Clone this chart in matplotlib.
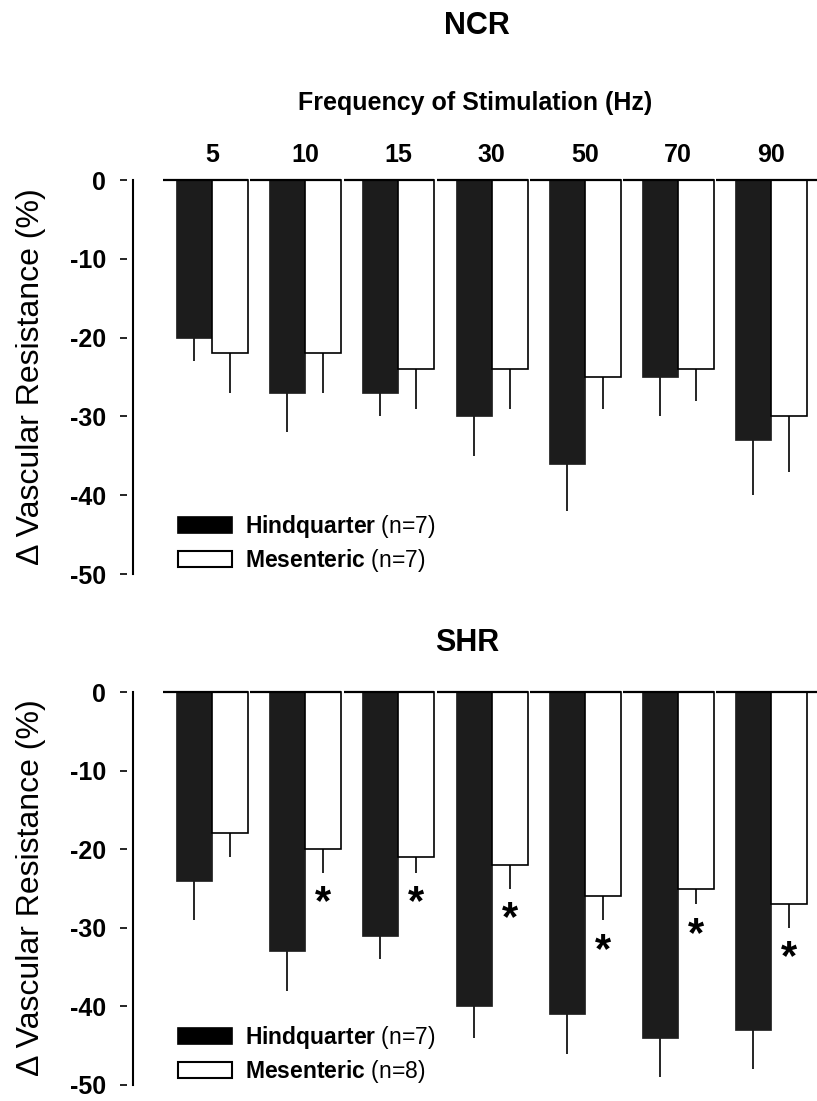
import numpy as np
import matplotlib
matplotlib.use("Agg")
import matplotlib.pyplot as plt
from matplotlib.patches import Patch

plt.rcParams['font.family'] = ['Liberation Sans', 'DejaVu Sans']
plt.rcParams['mathtext.fontset'] = 'custom'
plt.rcParams['mathtext.rm'] = 'Liberation Sans'
plt.rcParams['mathtext.bf'] = 'Liberation Sans:bold'

# ----------------------------------------------------------------------
# Data: % change in vascular resistance, mean and SEM
# ----------------------------------------------------------------------
freqs = ['5', '10', '15', '30', '50', '70', '90']

ncr_hind = [-20, -27, -27, -30, -36, -25, -33]
ncr_hind_sem = [3, 5, 3, 5, 6, 5, 7]
ncr_mes = [-22, -22, -24, -24, -25, -24, -30]
ncr_mes_sem = [5, 5, 5, 5, 4, 4, 7]

shr_hind = [-24, -33, -31, -40, -41, -44, -43]
shr_hind_sem = [5, 5, 3, 4, 5, 5, 5]
shr_mes = [-18, -20, -21, -22, -26, -25, -27]
shr_mes_sem = [3, 3, 2, 3, 3, 2, 3]
shr_sig = [False, True, True, True, True, True, True]

yticks = [0, -10, -20, -30, -40, -50]

W, H = 817, 1101
DARK = '#1c1c1c'


def panel(ax, hind, hind_sem, mes, mes_sem, n_hind, n_mes, sig=None):
    x = np.arange(len(hind))
    w = 0.386
    xmax = 6.49
    ax.set_xlim(-0.848, xmax)
    ax.set_ylim(-50, 0)

    ax.bar(x - w / 2, hind, w, color=DARK, edgecolor=DARK, linewidth=0.5,
           clip_on=False, zorder=2)
    ax.bar(x + w / 2, mes, w, color='white', edgecolor='black', linewidth=1.2,
           clip_on=False, zorder=2)
    ax.errorbar(x - w / 2, hind, yerr=[hind_sem, np.zeros(len(x))], fmt='none',
                ecolor='black', elinewidth=1.2, capsize=0, zorder=1)
    ax.errorbar(x + w / 2, mes, yerr=[mes_sem, np.zeros(len(x))], fmt='none',
                ecolor='black', elinewidth=1.2, capsize=0, zorder=1)

    # broken zero line, one segment per frequency group
    starts = x - 1 + w + 0.025
    starts[0] = -0.526
    ends = (x + w).astype(float)
    ends[-1] = xmax
    ax.hlines(np.zeros(len(x)), starts, ends, color='black', linewidth=1.6,
              clip_on=False, zorder=3)

    if sig is not None:
        for xi, m, s, flag in zip(x, mes, mes_sem, sig):
            if flag:
                ax.annotate('*', xy=(xi + w / 2, m - s), xytext=(0, -30),
                            textcoords='offset points', ha='center',
                            va='baseline', fontsize=30, fontweight='bold')

    # axes styling
    for side in ['top', 'right', 'bottom']:
        ax.spines[side].set_visible(False)
    ax.spines['left'].set_linewidth(1.5)
    ax.tick_params(axis='y', left=False, labelleft=False)
    sec = ax.secondary_yaxis(-6 / 684)
    sec.spines['left'].set_visible(False)
    sec.set_yticks(yticks)
    sec.set_yticklabels([str(v) for v in yticks], fontsize=18, fontweight='bold')
    sec.tick_params(length=5, width=1.2, pad=10)

    handles = [Patch(facecolor='black', edgecolor='black', linewidth=1.2),
               Patch(facecolor='white', edgecolor='black', linewidth=1.5)]
    labels = [r'$\mathbf{Hindquarter}$ (n=%d)' % n_hind,
              r'$\mathbf{Mesenteric}$ (n=%d)' % n_mes]
    ax.legend(handles, labels, loc='lower left', bbox_to_anchor=(0.066, 0.0),
              frameon=False, fontsize=16.5, borderpad=0, borderaxespad=0,
              handlelength=2.35, handleheight=0.65, handletextpad=0.55,
              labelspacing=0.3)
    return x


fig = plt.figure(figsize=(W / 100, H / 100), dpi=100)
ax_top = fig.add_axes([133 / W, 1 - 574 / H, 684 / W, 394 / H])
ax_bot = fig.add_axes([133 / W, 1 - 1085 / H, 684 / W, 393 / H])

x = panel(ax_top, ncr_hind, ncr_hind_sem, ncr_mes, ncr_mes_sem, 7, 7)
ax_top.xaxis.tick_top()
ax_top.set_xticks(x, freqs, fontsize=18, fontweight='bold')
ax_top.tick_params(axis='x', length=0, pad=9)

panel(ax_bot, shr_hind, shr_hind_sem, shr_mes, shr_mes_sem, 7, 8, sig=shr_sig)
ax_bot.set_xticks([])

fig.text(477 / W, 1 - 26 / H, 'NCR', ha='center', va='center',
         fontsize=22, fontweight='bold')
fig.text(475 / W, 1 - 103 / H, 'Frequency of Stimulation (Hz)', ha='center',
         va='center', fontsize=18, fontweight='bold')
fig.text(467 / W, 1 - 643 / H, 'SHR', ha='center', va='center',
         fontsize=22, fontweight='bold')
for yc in [377, 888]:
    fig.text(31 / W, 1 - yc / H, 'Δ Vascular Resistance (%)', rotation=90,
             ha='center', va='center', fontsize=23)

fig.savefig('out.png', dpi=100)
